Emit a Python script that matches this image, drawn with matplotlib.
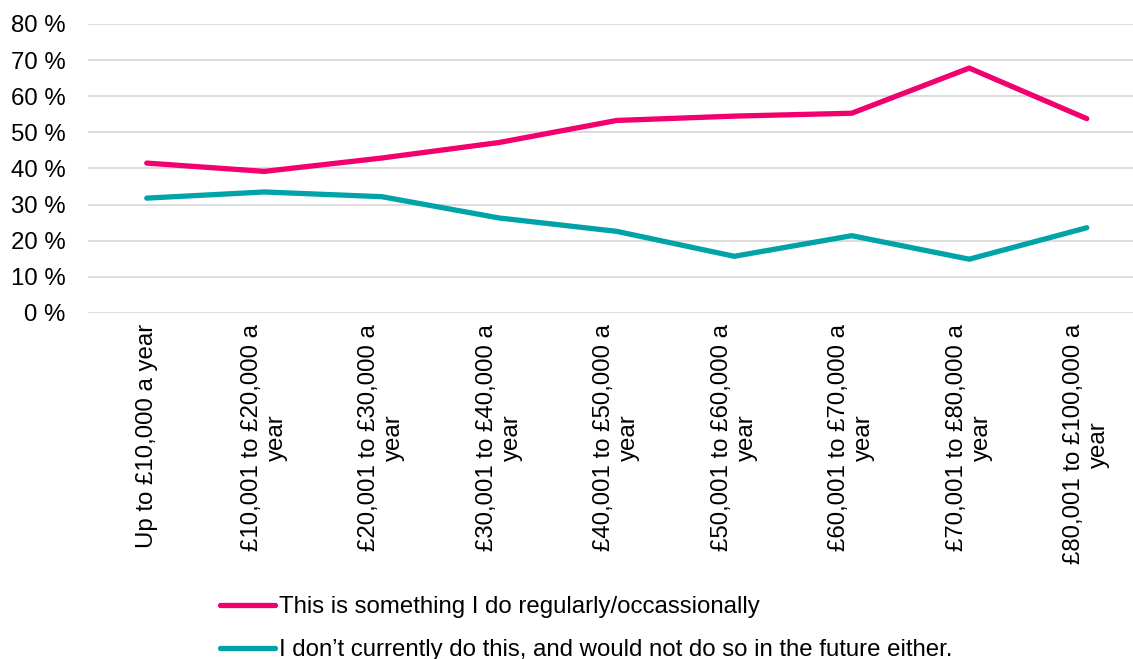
import matplotlib
matplotlib.use("Agg")
import matplotlib.pyplot as plt
from matplotlib.ticker import FixedLocator, FuncFormatter

plt.rcParams['font.family'] = ['Liberation Sans', 'DejaVu Sans']

categories = [
    "Up to £10,000 a year",
    "£10,001 to £20,000 a\nyear",
    "£20,001 to £30,000 a\nyear",
    "£30,001 to £40,000 a\nyear",
    "£40,001 to £50,000 a\nyear",
    "£50,001 to £60,000 a\nyear",
    "£60,001 to £70,000 a\nyear",
    "£70,001 to £80,000 a\nyear",
    "£80,001 to £100,000 a\nyear",
]
do_regularly = [41.5, 39.2, 42.9, 47.2, 53.3, 54.5, 55.3, 67.8, 53.8]
would_not = [31.8, 33.5, 32.2, 26.3, 22.6, 15.7, 21.4, 14.9, 23.6]

series_labels = [
    "This is something I do regularly/occassionally",
    "I don\u2019t currently do this, and would not do so in the future either.",
]
pink = "#F2006E"
teal = "#00A3A8"
fs = 17.3

W, H = 1133, 659
fig = plt.figure(figsize=(W / 100, H / 100), dpi=100)
left, right, top, bottom = 88, 1133, 24, 313
ax = fig.add_axes([left / W, 1 - bottom / H, (right - left) / W, (bottom - top) / H])

x = list(range(len(categories)))
ax.plot(x, do_regularly, color=pink, lw=3.8, solid_capstyle="round",
        solid_joinstyle="round", label=series_labels[0], zorder=3)
ax.plot(x, would_not, color=teal, lw=3.8, solid_capstyle="round",
        solid_joinstyle="round", label=series_labels[1], zorder=3)

step = 117.5
ax.set_xlim(-0.5, -0.5 + (right - left) / step)
ax.set_ylim(0, 80)
ax.yaxis.set_major_locator(FixedLocator(range(0, 81, 10)))
ax.yaxis.set_major_formatter(FuncFormatter(lambda v, p: f"{int(v)} %"))
ax.grid(axis="y", color="#d9d9d9", lw=1.3, zorder=0)
ax.set_axisbelow(True)
for s in ax.spines.values():
    s.set_visible(False)

ax.set_xticks(x)
ax.set_xticklabels(categories, rotation=90, ha="center", va="top",
                   fontsize=fs, multialignment="center", linespacing=1.2)
ax.tick_params(axis="x", length=0, pad=8)
ax.tick_params(axis="y", length=0, pad=16, labelsize=fs)

leg = fig.legend(loc="upper left", bbox_to_anchor=(220 / W, 1 - 596 / H),
                 frameon=False, fontsize=fs, handlelength=2.3,
                 handletextpad=0.15, labelspacing=0.88, borderaxespad=0,
                 borderpad=0)
for line in leg.get_lines():
    line.set_linewidth(3.8)
    line.set_solid_capstyle("round")

fig.savefig("out.png", dpi=100)
